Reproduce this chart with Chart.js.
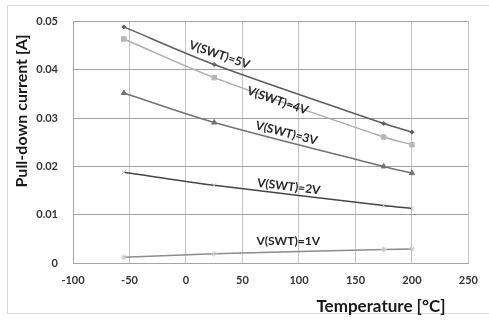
<!DOCTYPE html>
<html>
<head>
<meta charset="utf-8">
<script src="https://cdn.jsdelivr.net/npm/chart.js@4"></script>
<style>
  html, body { margin: 0; padding: 0; background: #fff; }
  #wrap { width: 489px; height: 323px; position: relative; }
</style>
</head>
<body>
<div id="wrap"><canvas id="pulldownChart" width="489" height="323"></canvas></div>
<script>
// temperatures of the measured points
var temps = [-55, 25, 175, 200];

// pull-down current [A] for each V(SWT)
var i5V = [0.0489, 0.0411, 0.0289, 0.0271];
var i4V = [0.0464, 0.0384, 0.0261, 0.0245];
var i3V = [0.0352, 0.0291, 0.0200, 0.0186];
var i2V = [0.0188, 0.0161, 0.0119, 0.0113];
var i1V = [0.0012, 0.0019, 0.0028, 0.0029];

// curve labels: text, x (°C), y (A), angle in degrees
var labelTexts = ['V(SWT)=5V', 'V(SWT)=4V', 'V(SWT)=3V', 'V(SWT)=2V', 'V(SWT)=1V'];
var labelX = [29.6, 81, 89, 91, 90.5];
var labelY = [0.0431, 0.0336, 0.0269, 0.0158, 0.0045];
var labelAngle = [19, 19, 14.5, 7, 0];

var xTitle = 'Temperature [°C]';
var yTitle = 'Pull-down current [A]';

function pts(ys) {
    return temps.map(function (t, i) { return { x: t, y: ys[i] }; });
}

var FONT = 'Lato, "Open Sans", sans-serif';

var curveLabels = {
    id: 'curveLabels',
    afterDatasetsDraw: function (chart) {
        var ctx = chart.ctx;
        var xs = chart.scales.x, ys = chart.scales.y;
        ctx.save();
        ctx.fillStyle = '#262626';
        ctx.font = 'bold 12px ' + FONT;
        ctx.textAlign = 'center';
        ctx.textBaseline = 'middle';
        for (var i = 0; i < labelTexts.length; i++) {
            ctx.save();
            ctx.translate(xs.getPixelForValue(labelX[i]), ys.getPixelForValue(labelY[i]));
            ctx.rotate(labelAngle[i] * Math.PI / 180);
            ctx.fillText(labelTexts[i], 0, 0);
            ctx.restore();
        }
        ctx.restore();
    }
};

var frameAndTitles = {
    id: 'frameAndTitles',
    beforeDraw: function (chart) {
        var ctx = chart.ctx;
        ctx.save();
        ctx.fillStyle = '#fff';
        ctx.fillRect(0, 0, chart.width, chart.height);
        ctx.strokeStyle = '#d9d9d9';
        ctx.lineWidth = 1;
        ctx.strokeRect(7.5, 5.5, chart.width, 308);
        ctx.restore();
    },
    afterDraw: function (chart) {
        var ctx = chart.ctx;
        ctx.save();
        ctx.fillStyle = '#1a1a1a';
        ctx.textAlign = 'center';
        ctx.textBaseline = 'middle';
        ctx.font = 'bold 17px ' + FONT;
        ctx.fillText(xTitle, 381, 307);
        ctx.font = 'bold 16px ' + FONT;
        ctx.translate(22, 111);
        ctx.rotate(-Math.PI / 2);
        ctx.fillText(yTitle, 0, 0);
        ctx.restore();
    }
};

function series(data, color, style, radius, pointColor) {
    return {
        data: pts(data),
        borderColor: color,
        backgroundColor: pointColor || color,
        pointBorderColor: pointColor || color,
        pointBackgroundColor: pointColor || color,
        borderWidth: 1.5,
        pointStyle: style,
        pointRadius: radius,
        pointBorderWidth: 1,
        tension: 0.3,
        showLine: true
    };
}

new Chart(document.getElementById('pulldownChart').getContext('2d'), {
    type: 'scatter',
    data: {
        datasets: [
            series(i5V, '#5e5e5e', 'rectRot', 2),
            series(i4V, '#ababab', 'rect', 3.2, '#b8b8b8'),
            series(i3V, '#727272', 'triangle', 3),
            series(i2V, '#454545', 'crossRot', 3, '#c4c4c4'),
            series(i1V, '#8c8c8c', 'star', 3, '#c8c8c8')
        ]
    },
    options: {
        responsive: false,
        animation: false,
        layout: { padding: { left: 0, top: 16, right: 14, bottom: 0 } },
        plugins: {
            legend: { display: false },
            tooltip: { enabled: false }
        },
        scales: {
            x: {
                type: 'linear',
                min: -100,
                max: 250,
                afterFit: function (s) { s.height = 60; },
                ticks: {
                    stepSize: 50,
                    padding: 11,
                    color: '#333',
                    font: { family: FONT, size: 11, weight: 'bold' }
                },
                grid: { color: '#c4c4c4', drawTicks: false },
                border: { color: '#a6a6a6' }
            },
            y: {
                min: 0,
                max: 0.05,
                afterFit: function (s) { s.width = 73; },
                ticks: {
                    stepSize: 0.01,
                    padding: 15,
                    color: '#333',
                    font: { family: FONT, size: 11, weight: 'bold' }
                },
                grid: { color: '#a0a0a0', drawTicks: false },
                border: { color: '#a6a6a6' }
            }
        }
    },
    plugins: [frameAndTitles, curveLabels]
});
</script>
</body>
</html>
